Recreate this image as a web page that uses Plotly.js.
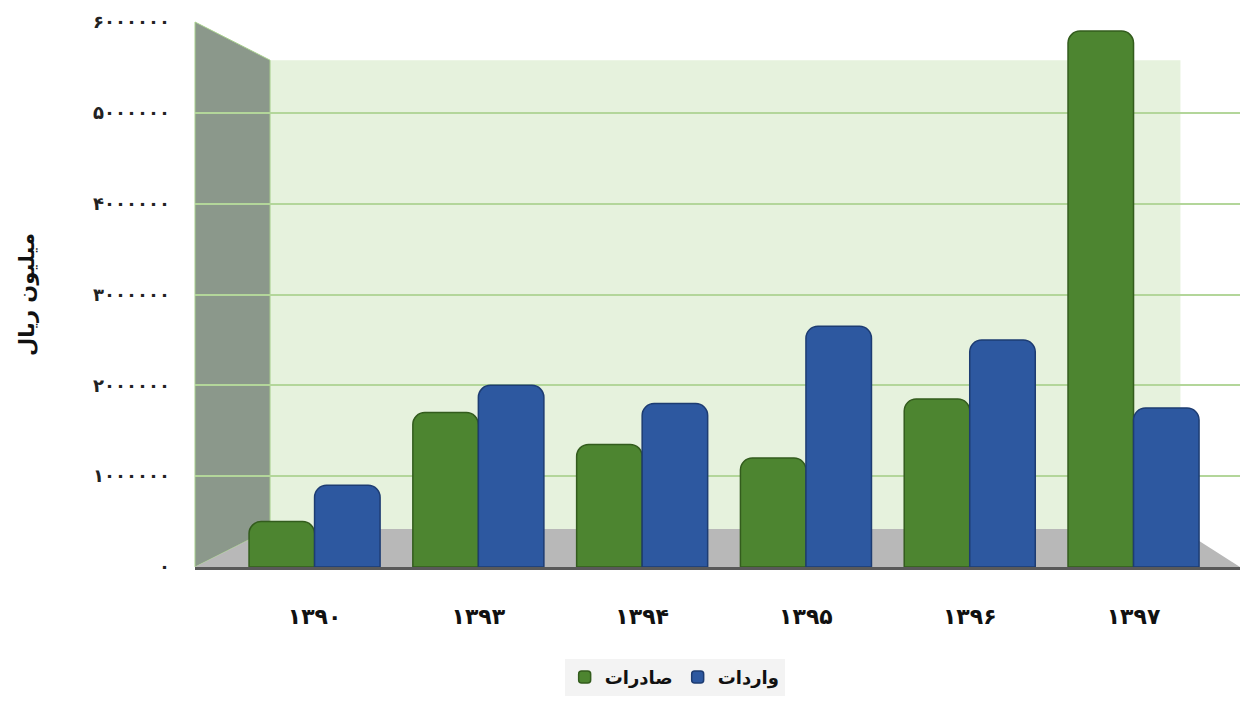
<!DOCTYPE html>
<html><head><meta charset="utf-8">
<script src="https://cdn.plot.ly/plotly-3.0.1.min.js"></script>
<style>html,body{margin:0;padding:0;background:#fff}#chart{width:1250px;height:704px}</style>
</head><body><div id="chart"></div>
<script>
const years = ['۱۳۹۰','۱۳۹۳','۱۳۹۴','۱۳۹۵','۱۳۹۶','۱۳۹۷'];
const exportsName = 'صادرات';
const importsName = 'واردات';
const exportsVals = [500000, 1700000, 1350000, 1200000, 1850000, 5900000];
const importsVals = [900000, 2000000, 1800000, 2650000, 2500000, 1750000];
const yTickVals = [0, 1000000, 2000000, 3000000, 4000000, 5000000, 6000000];
const yTickText = ['۰','۱۰۰۰۰۰۰','۲۰۰۰۰۰۰','۳۰۰۰۰۰۰','۴۰۰۰۰۰۰','۵۰۰۰۰۰۰','۶۰۰۰۰۰۰'];
const yTitle = 'میلیون ریال';

const F = '"DejaVu Sans", sans-serif';
const traces = [
  {type:'bar', x: years, y: exportsVals, name: exportsName,
   marker:{color:'#4d8530', line:{color:'#335c1d', width:1.5}}},
  {type:'bar', x: years, y: importsVals, name: importsName,
   marker:{color:'#2d58a0', line:{color:'#1d3c72', width:1.5}}}
];
const layout = {
  width:1250, height:704,
  margin:{l:195, r:10, t:22, b:136},
  paper_bgcolor:'#ffffff', plot_bgcolor:'#ffffff',
  barmode:'group', bargap:0.2, bargroupgap:0, barcornerradius:12,
  xaxis:{type:'category', range:[-0.73, 5.65], showgrid:false, zeroline:false, automargin:false,
    showline:true, linecolor:'#595959', linewidth:3, ticks:'', ticklabelstandoff:28,
    tickfont:{family:F, size:22, color:'#111', weight:700}},
  yaxis:{range:[0, 6000000], tickvals:yTickVals, ticktext:yTickText, automargin:false,
    showgrid:true, gridcolor:'#b3d69a', gridwidth:2, zeroline:false, showline:false,
    ticks:'', ticklabelstandoff:24,
    tickfont:{family:F, size:18, color:'#222', weight:700},
    title:{text:yTitle, standoff:52, font:{family:F, size:21, color:'#111', weight:700}}},
  legend:{orientation:'h', x:0.459, xanchor:'center', y:-0.2, yanchor:'middle',
    bgcolor:'#f3f3f3', font:{family:F, size:18, color:'#111', weight:700}, traceorder:'normal'},
  shapes:[
    {type:'rect', xref:'paper', yref:'paper', x0:0.0718, x1:0.943, y0:0.0696, y1:0.930,
     fillcolor:'#e6f2dd', line:{width:0}, layer:'below'},
    {type:'path', xref:'paper', yref:'paper', path:'M 0 1 L 0.0718 0.930 L 0.0718 0.0696 L 0 0 Z',
     fillcolor:'#8b988b', line:{color:'#a8d08d', width:1}, layer:'below'},
    {type:'path', xref:'paper', yref:'paper', path:'M 0 0 L 0.0718 0.0696 L 0.943 0.0696 L 1 0 Z',
     fillcolor:'#b8b8b8', line:{width:0}, layer:'below'}
  ],
  showlegend:true
};
Plotly.newPlot('chart', traces, layout, {displayModeBar:false, staticPlot:true});
</script></body></html>
